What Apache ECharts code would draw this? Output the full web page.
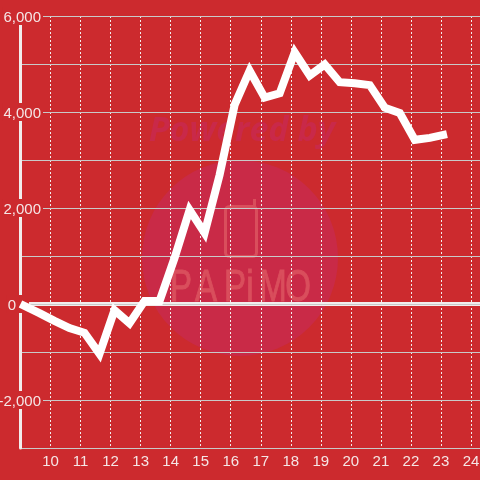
<!DOCTYPE html>
<html>
<head>
<meta charset="utf-8">
<style>
  html, body { margin: 0; padding: 0; background: #cc2a2e; }
  #main { width: 480px; height: 480px; }
</style>
</head>
<body>
<div id="main"></div>
<script src="https://cdn.jsdelivr.net/npm/echarts@6/dist/echarts.min.js"></script>
<script>
var hours = [9, 9.63, 10.13, 10.63, 11.13, 11.63, 12.13, 12.63, 13.13, 13.63, 14.13, 14.63, 15.13, 15.63,
  16.13, 16.63, 17.13, 17.63, 18.13, 18.63, 19.13, 19.63, 20.13, 20.63, 21.13, 21.63, 22.13, 22.63, 23.2];
var values = [0, -190, -350, -500, -600, -1040, -130, -400, 60, 60, 960, 1960, 1480, 2690,
  4150, 4860, 4300, 4390, 5240, 4760, 4990, 4620, 4600, 4560, 4090, 3980, 3420, 3460, 3540];
var yLabels = ['-2,000', '0', '2,000', '4,000', '6,000'];
var logoLetters = ['P', 'A', 'P', 'i', 'M', 'O'];
var logoCenters = [181, 206, 235, 250, 273, 298];

var red = '#cc2a2e';
var labelColor = '#f5e6e6';
var markColor = '#d94e5c';
var myChart = echarts.init(document.getElementById('main'));

// 背景水印
var watermark = [
  { type: 'circle', z: -10, shape: { cx: 240, cy: 258, r: 98 }, style: { fill: '#c92a47' } },
  { type: 'text', z: -9, x: 242, y: 148, style: { text: 'Powered by', font: 'italic bold 34px "Open Sans"', fill: '#c92949', textAlign: 'center', textVerticalAlign: 'bottom' } },
  { type: 'rect', z: -9, shape: { x: 225.5, y: 206.5, width: 31, height: 50, r: 4 }, style: { fill: 'none', stroke: markColor, lineWidth: 3 } },
  { type: 'line', z: -9, shape: { x1: 254.5, y1: 199, x2: 254.5, y2: 206 }, style: { stroke: markColor, lineWidth: 3 } }
].concat(logoLetters.map(function (c, i) {
  return {
    type: 'text', z: -9, x: logoCenters[i], y: 311, scaleX: 0.75,
    style: { text: c, font: '44px "Liberation Sans"', fill: markColor, stroke: markColor, lineWidth: 1, textAlign: 'center', textVerticalAlign: 'bottom' }
  };
}));

var option = {
  backgroundColor: red,
  animation: false,
  graphic: watermark,
  grid: { left: 20.5, right: 0, top: 16, bottom: 32, outerBoundsMode: 'none' },
  xAxis: [
    {
      type: 'value', min: 9, max: 24.3, interval: 1,
      axisLine: { onZero: false, show: false },
      axisTick: { show: false },
      axisLabel: { color: labelColor, fontSize: 15, fontFamily: 'Liberation Sans', margin: 6, showMinLabel: false, showMaxLabel: false },
      splitLine: { show: true, showMinLine: false, showMaxLine: false, lineStyle: { color: '#f2eded', width: 1, type: [2, 2] } }
    },
    // 0 处的粗线
    {
      type: 'value', min: 9, max: 24.3, position: 'bottom', z: 1,
      axisLine: { onZero: true, show: true, lineStyle: { color: '#f2eded', width: 4 } },
      axisTick: { show: false }, axisLabel: { show: false }, splitLine: { show: false }
    }
  ],
  yAxis: {
    type: 'value', min: -3000, max: 6000, interval: 1000, z: 3,
    axisLine: { show: true, onZero: false, lineStyle: { color: '#f2eded', width: 3 } },
    axisTick: { show: false },
    splitLine: { lineStyle: { color: '#c9c9c9', width: 1 } },
    axisLabel: {
      margin: -22.5,
      fontSize: 15,
      fontFamily: 'Liberation Sans',
      color: labelColor,
      formatter: function (v) {
        var s = echarts.format.addCommas(v);
        if (v === 0) return '{z|0}{g|}';
        return yLabels.indexOf(s) >= 0 ? '{a|' + s + '}' : '';
      },
      rich: {
        a: { color: labelColor, fontSize: 15, backgroundColor: red, padding: [3, 2, 0, 1] },
        z: { color: labelColor, fontSize: 15, backgroundColor: red, padding: [3, 13, 0, 1] },
        g: { width: 14 }
      }
    }
  },
  series: [{
    type: 'line',
    z: 4,
    clip: false,
    showSymbol: false,
    data: hours.map(function (h, i) { return [h, values[i]]; }),
    lineStyle: { color: '#ffffff', width: 8, join: 'miter', cap: 'butt' }
  }]
};
myChart.setOption(option);
</script>
</body>
</html>
